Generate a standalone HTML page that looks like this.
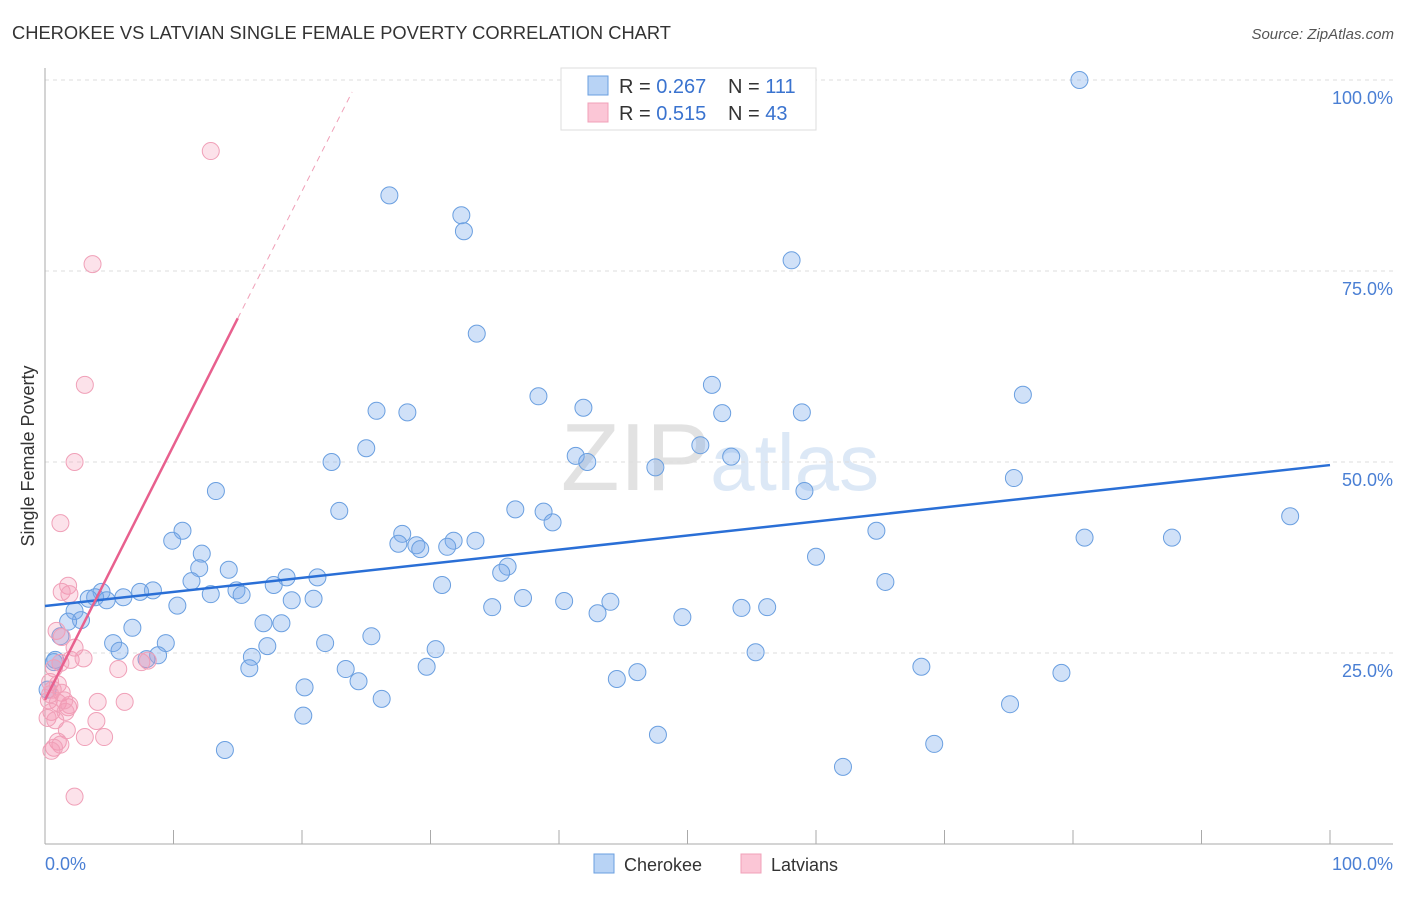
<!DOCTYPE html>
<html><head><meta charset="utf-8"><style>
body{margin:0;background:#fff;font-family:"Liberation Sans",sans-serif}
svg text{font-family:"Liberation Sans",sans-serif}
</style></head><body>
<svg id="chart" width="1406" height="892" xmlns="http://www.w3.org/2000/svg">
<text x="12" y="39" font-size="18" fill="#333" textLength="659" lengthAdjust="spacingAndGlyphs">CHEROKEE VS LATVIAN SINGLE FEMALE POVERTY CORRELATION CHART</text>
<text x="1394" y="39" font-size="15" fill="#555" text-anchor="end" font-style="italic">Source: ZipAtlas.com</text>
<text x="720" y="490" font-size="96" text-anchor="middle" fill="#e5e5e5" font-family="Liberation Serif"><tspan fill="#e2e2e2">ZIP</tspan><tspan fill="#dce8f6" font-family="Liberation Sans" font-size="80">atlas</tspan></text>
<g id="grid"></g><g id="axes"></g><g id="pts"></g><g id="lines"></g>
<text transform="translate(34,456) rotate(-90)" font-size="18" fill="#333" text-anchor="middle">Single Female Poverty</text>
<text x="45" y="870" font-size="18" fill="#4a7fd4">0.0%</text>
<text x="1393" y="870" font-size="18" fill="#4a7fd4" text-anchor="end">100.0%</text>
<g>
<rect x="561" y="68" width="255" height="62" fill="#fff" stroke="#ddd"/>
<rect x="588" y="76" width="20" height="19" fill="#b8d3f5" stroke="#6a9fe0"/>
<rect x="588" y="103" width="20" height="19" fill="#fbc6d6" stroke="#f0a0b8"/>
<text x="619" y="93" font-size="20" fill="#333">R = <tspan fill="#3a73cf">0.267</tspan></text>
<text x="728" y="93" font-size="20" fill="#333">N = <tspan fill="#3a73cf">111</tspan></text>
<text x="619" y="120" font-size="20" fill="#333">R = <tspan fill="#3a73cf"> 0.515</tspan></text>
<text x="728" y="120" font-size="20" fill="#333">N = <tspan fill="#3a73cf">43</tspan></text>
</g>
<g>
<rect x="594" y="854" width="20" height="19" fill="#b8d3f5" stroke="#6a9fe0"/>
<text x="624" y="871" font-size="18" fill="#333">Cherokee</text>
<rect x="741" y="854" width="20" height="19" fill="#fbc6d6" stroke="#f0a0b8"/>
<text x="771" y="871" font-size="18" fill="#333">Latvians</text>
</g>
</svg>
<script>
const yTicks=[25,50,75,100];
const yTickLabels=["25.0%","50.0%","75.0%","100.0%"];
const xTicks=[0,10,20,30,40,50,60,70,80,90,100];
const cherokeeX=[80.5,26.8,32.4,32.6,58.1,33.6,51.9,76.1,38.4,41.9,25.8,28.2,52.7,58.9,25.0,51.0,41.3,42.2,53.4,22.3,47.5,75.4,59.1,13.3,36.6,38.8,22.9,39.5,10.7,64.7,27.8,9.9,27.5,28.9,29.2,31.8,33.5,31.3,80.9,87.7,96.9,12.2,60.0,12.0,14.3,36.0,35.5,18.8,21.2,11.4,17.8,30.9,65.4,8.4,4.4,7.4,6.1,3.9,4.8,3.4,14.9,12.9,15.3,19.2,20.9,37.2,40.4,10.3,44.0,34.8,54.2,56.2,2.3,2.8,43.0,1.8,49.6,17.0,18.4,6.8,1.2,25.4,5.3,9.4,21.8,17.3,30.4,5.8,55.3,8.8,7.9,0.8,16.1,15.9,23.4,29.7,46.1,68.2,79.1,44.5,24.4,20.2,26.2,75.1,20.1,47.7,69.2,14.0,62.1,0.2,0.7];
const cherokeeY=[100.0,84.9,82.3,80.2,76.4,66.8,60.1,58.8,58.6,57.1,56.7,56.5,56.4,56.5,51.8,52.2,50.8,50.0,50.7,50.0,49.3,47.9,46.2,46.2,43.8,43.5,43.6,42.1,41.0,41.0,40.6,39.7,39.3,39.1,38.6,39.7,39.7,38.9,40.1,40.1,42.9,38.0,37.6,36.1,35.9,36.3,35.5,34.9,34.9,34.4,33.9,33.9,34.3,33.2,33.0,33.0,32.3,32.3,31.9,32.1,33.2,32.7,32.6,31.9,32.1,32.2,31.8,31.2,31.7,31.0,30.9,31.0,30.5,29.3,30.2,29.1,29.7,28.9,28.9,28.3,27.2,27.2,26.3,26.3,26.3,25.9,25.5,25.3,25.1,24.7,24.2,24.1,24.5,23.0,22.9,23.2,22.5,23.2,22.4,21.6,21.3,20.5,19.0,18.3,16.8,14.3,13.1,12.3,10.1,20.2,23.8];
const latviansX=[12.9,3.7,3.1,2.3,1.2,1.8,1.3,1.9,0.9,1.3,2.0,2.3,3.0,1.2,0.7,0.4,1.0,0.6,1.3,0.3,1.0,1.8,1.9,4.1,6.2,0.5,1.6,0.2,0.8,4.0,1.7,1.0,1.2,0.7,0.5,3.1,4.6,5.7,7.5,8.0,2.3,0.4,1.5];
const latviansY=[90.7,75.9,60.1,50.0,42.0,33.8,33.0,32.7,27.9,27.1,24.1,25.7,24.3,23.7,23.0,21.2,20.9,20.2,19.8,18.8,18.5,17.9,18.2,18.6,18.6,17.3,17.3,16.5,16.2,16.1,14.9,13.4,13.0,12.6,12.2,14.0,14.0,22.9,23.8,24.0,6.2,19.6,18.8];
const cherokeeTrend=[31.15,49.6];
const latviansTrend={b:18.85,m:3.33,solidEnd:15,dashEnd:23.9};
const NS="http://www.w3.org/2000/svg";
const sx=v=>45+v*12.85, sy=v=>844-v*7.64;
function mk(p,t,a){const e=document.createElementNS(NS,t);for(const k in a)e.setAttribute(k,a[k]);document.getElementById(p).appendChild(e);return e;}
yTicks.forEach((t,i)=>{
 const l=mk('grid','line',{x1:45,x2:1393,y1:sy(t),y2:sy(t),stroke:'#ddd','stroke-dasharray':'4,4'});
 
 
 const tx=mk('grid','text',{x:1393,y:sy(t)+24,'font-size':18,fill:'#4a7fd4','text-anchor':'end'});
 tx.textContent=yTickLabels[i];
 
 
});
let ax=mk('axes','line',{x1:45,x2:45,y1:68,y2:844,stroke:'#aaa'});


ax=mk('axes','line',{x1:45,x2:1393,y1:844,y2:844,stroke:'#aaa'});


xTicks.forEach(t=>{const l=mk('axes','line',{x1:sx(t),x2:sx(t),y1:830,y2:844,stroke:'#aaa'});
 
 });
cherokeeX.forEach((x,i)=>{const c=mk('pts','circle',{cx:sx(x),cy:sy(cherokeeY[i]),r:8.5,fill:'rgba(120,170,235,0.35)',stroke:'#6a9fe0','stroke-width':1});
 
 });
latviansX.forEach((x,i)=>{const c=mk('pts','circle',{cx:sx(x),cy:sy(latviansY[i]),r:8.5,fill:'rgba(245,150,180,0.28)',stroke:'#f0a0b8','stroke-width':1});
 
 });
let tl=mk('lines','line',{x1:sx(0),y1:sy(cherokeeTrend[0]),x2:sx(100),y2:sy(cherokeeTrend[1]),stroke:'#2a6fd6','stroke-width':2.5});


const L=latviansTrend;
tl=mk('lines','line',{x1:sx(0),y1:sy(L.b),x2:sx(L.solidEnd),y2:sy(L.b+L.m*L.solidEnd),stroke:'#e8608e','stroke-width':2.5});


tl=mk('lines','line',{x1:sx(L.solidEnd),y1:sy(L.b+L.m*L.solidEnd),x2:sx(L.dashEnd),y2:sy(L.b+L.m*L.dashEnd),stroke:'#f0a0b8','stroke-width':1,'stroke-dasharray':'6,5'});


</script>
</body></html>
